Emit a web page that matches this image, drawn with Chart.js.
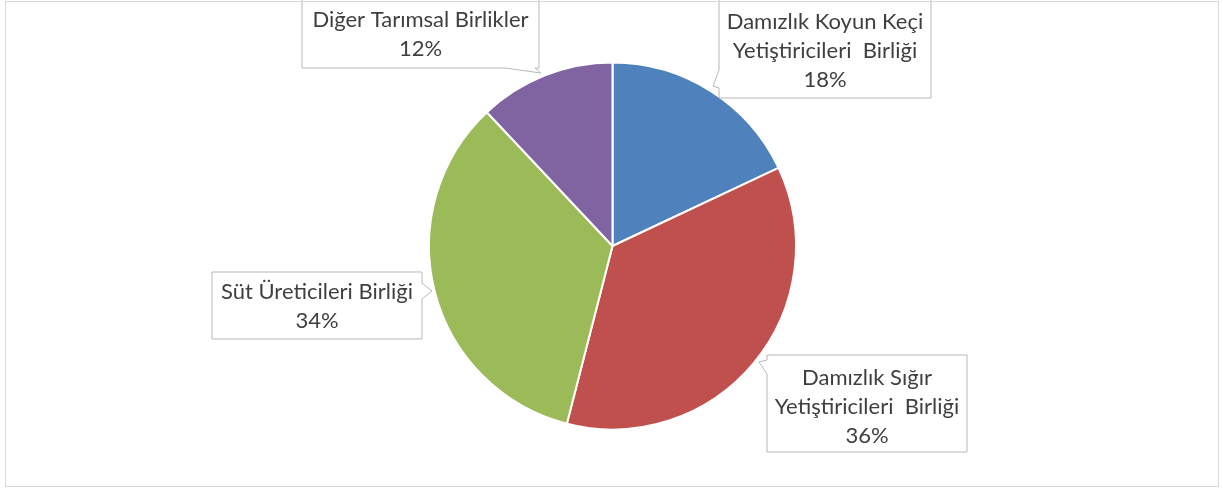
<!DOCTYPE html>
<html><head><meta charset="utf-8">
<script src="https://cdn.jsdelivr.net/npm/chart.js@4/dist/chart.umd.min.js"></script>
<style>html,body{margin:0;padding:0;background:#fff;}#wrap{position:relative;width:1223px;height:490px;}</style>
</head><body><div id="wrap"><canvas id="c" width="1223" height="490"></canvas></div>
<script>
const categories = ['Damızlık Koyun Keçi Yetiştiricileri Birliği','Damızlık Sığır Yetiştiricileri Birliği','Süt Üreticileri Birliği','Diğer Tarımsal Birlikler'];
const shares = [18, 36, 34, 12];
const labelLines = [['Damızlık Koyun Keçi','Yetiştiricileri  Birliği'],['Damızlık Sığır','Yetiştiricileri  Birliği'],['Süt Üreticileri Birliği'],['Diğer Tarımsal Birlikler']];
const colors = ['#4F81BD','#C0504D','#9BBB59','#8064A2'];

// callout box layout (style only)
const boxes = [
  {x:719,y:-2,w:212,h:100,ty:22,side:'left',b1:70,b2:88,tx:713,tyy:86},
  {x:767,y:355,w:200,h:97,ty:378,side:'left',b1:360,b2:374,tx:759,tyy:362},
  {x:212,y:272,w:210,h:67,ty:292,side:'right',b1:283,b2:299,tx:432,tyy:291},
  {x:302,y:-2,w:237,h:70,ty:20,side:'bottom',b1:505,b2:535,tx:541,tyy:73}
];
const FONT = '22px Lato';
const LH = 29;

const callouts = {
  id:'callouts',
  afterDatasetsDraw(chart){
    const ctx = chart.ctx;
    ctx.save();
    boxes.forEach((b,i)=>{
      ctx.beginPath();
      ctx.moveTo(b.x,b.y);
      ctx.lineTo(b.x+b.w,b.y);
      if(b.side==='right'){ctx.lineTo(b.x+b.w,b.b1);ctx.lineTo(b.tx,b.tyy);ctx.lineTo(b.x+b.w,b.b2);}
      ctx.lineTo(b.x+b.w,b.y+b.h);
      if(b.side==='bottom'){ctx.lineTo(b.b2,b.y+b.h);ctx.lineTo(b.tx,b.tyy);ctx.lineTo(b.b1,b.y+b.h);}
      ctx.lineTo(b.x,b.y+b.h);
      if(b.side==='left'){ctx.lineTo(b.x,b.b2);ctx.lineTo(b.tx,b.tyy);ctx.lineTo(b.x,b.b1);}
      ctx.closePath();
      ctx.fillStyle='#fff';ctx.fill();
      ctx.strokeStyle='#b8b8b8';ctx.lineWidth=1;ctx.stroke();
      ctx.fillStyle='#3f3f3f';ctx.font=FONT;ctx.textAlign='center';ctx.textBaseline='middle';
      const lines = labelLines[i].concat([shares[i]+'%']);
      const cx = b.x+b.w/2;
      lines.forEach((l,k)=>ctx.fillText(l,cx,b.ty+k*LH));
    });
    // outer frame
    ctx.strokeStyle='#d9d9d9';ctx.lineWidth=1;
    ctx.strokeRect(5.5,1.5,1213,485);
    ctx.restore();
  }
};

new Chart(document.getElementById('c'),{
  type:'pie',
  data:{labels:categories,datasets:[{data:shares,backgroundColor:colors,borderColor:'#ffffff',borderWidth:2}]},
  options:{
    responsive:false,animation:false,devicePixelRatio:1,
    layout:{padding:{left:428,right:426,top:61,bottom:59}},
    plugins:{legend:{display:false},tooltip:{enabled:false}}
  },
  plugins:[callouts]
});
</script></body></html>
